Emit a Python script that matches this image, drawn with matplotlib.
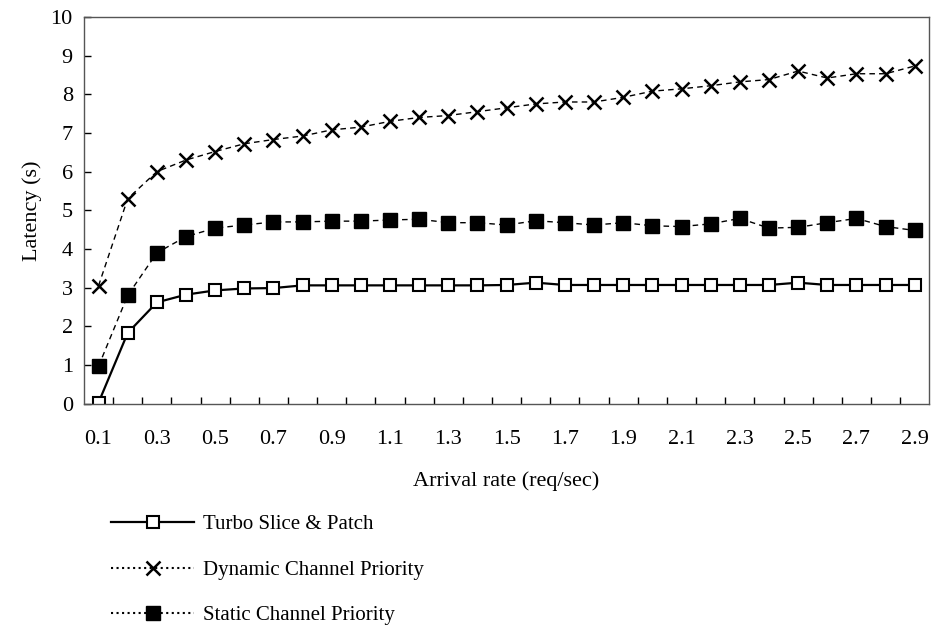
import numpy as np
import matplotlib.pyplot as plt
from matplotlib.lines import Line2D

plt.rcParams['font.family'] = ['Liberation Serif', 'DejaVu Serif']

rates = np.round(np.arange(1, 30) / 10, 1)
tick_labels = ["0.1", "0.3", "0.5", "0.7", "0.9", "1.1", "1.3", "1.5",
               "1.7", "1.9", "2.1", "2.3", "2.5", "2.7", "2.9"]

turbo = [0.03, 1.83, 2.62, 2.82, 2.93, 2.98, 2.99, 3.06, 3.06, 3.06,
         3.06, 3.06, 3.06, 3.06, 3.07, 3.13, 3.07, 3.07, 3.07, 3.07,
         3.07, 3.07, 3.07, 3.07, 3.13, 3.07, 3.07, 3.07, 3.07]
dynamic = [3.05, 5.3, 6.0, 6.3, 6.52, 6.72, 6.83, 6.92, 7.08, 7.15,
           7.3, 7.4, 7.45, 7.55, 7.65, 7.75, 7.8, 7.8, 7.92, 8.08,
           8.14, 8.22, 8.32, 8.38, 8.6, 8.42, 8.53, 8.53, 8.73]
static = [0.97, 2.8, 3.9, 4.32, 4.54, 4.62, 4.7, 4.7, 4.72, 4.72,
          4.75, 4.77, 4.68, 4.68, 4.62, 4.73, 4.68, 4.62, 4.68, 4.6,
          4.58, 4.65, 4.79, 4.54, 4.56, 4.68, 4.79, 4.58, 4.48]

fig = plt.figure(figsize=(9.33, 6.25), dpi=100)
ax = fig.add_axes([0.09, 0.354, 0.906, 0.619])

dash = (0, (4, 3))
ax.plot(rates, turbo, color="black", lw=1.6, marker="s", ms=9,
        mfc="white", mec="black", mew=1.5)
ax.plot(rates, dynamic, color="black", lw=1.0, ls=dash, marker="x", ms=10,
        mew=1.8)
ax.plot(rates, static, color="black", lw=1.0, ls=dash, marker="s", ms=10,
        mfc="black", mec="black")

ax.set_xlim(0.05, 2.95)
ax.set_ylim(0, 10)
ax.set_yticks(range(0, 11))
ax.set_xticks(rates[::2])
ax.set_xticklabels(tick_labels)
ax.set_xticks(np.arange(0.15, 2.9, 0.1), minor=True)
ax.tick_params(axis="x", which="major", length=0, labelsize=16, pad=19)
ax.tick_params(axis="x", which="minor", direction="in", length=5, width=1)
ax.tick_params(axis="y", direction="in", length=5, width=1, labelsize=16, pad=8)
ax.tick_params(top=False, right=False)
for s in ax.spines.values():
    s.set_linewidth(1.0)
    s.set_color("#555555")

ax.set_xlabel("Arrival rate (req/sec)", fontsize=16, labelpad=16)
ax.set_ylabel("Latency (s)", fontsize=16, labelpad=6)

handles = [
    Line2D([], [], color="black", lw=1.6, marker="s", ms=9, mfc="white",
           mec="black", mew=1.5),
    Line2D([], [], color="black", lw=1.5, ls=":", marker="x", ms=10, mew=1.8),
    Line2D([], [], color="black", lw=1.5, ls=":", marker="s", ms=10,
           mfc="black"),
]
labels = ["Turbo Slice & Patch", "Dynamic Channel Priority",
          "Static Channel Priority"]
fig.legend(handles, labels, loc="upper left", bbox_to_anchor=(0.11, 0.19),
           frameon=False, fontsize=15, handlelength=4.0, handletextpad=0.4,
           labelspacing=1.25, borderaxespad=0)

fig.savefig("out.png", dpi=100)
